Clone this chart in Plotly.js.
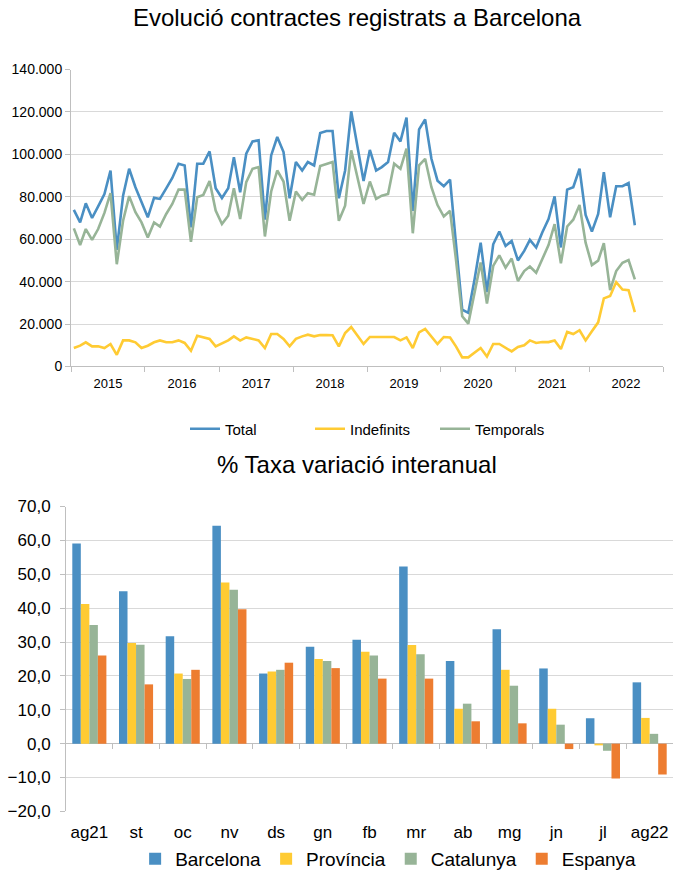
<!DOCTYPE html>
<html>
<head>
<meta charset="utf-8">
<script src="https://cdn.plot.ly/plotly-3.0.1.min.js"></script>
<style>
html,body{margin:0;padding:0;background:#fff;}
#chart{width:675px;height:878px;}
</style>
</head>
<body>
<div id="chart"></div>
<script>
// ---- Line chart data (thousands of contracts, monthly Jan 2015 - Aug 2022) ----
const years = [2015, 2016, 2017, 2018, 2019, 2020, 2021, 2022];
const total = [
  73.8,67.9,76.9,70.0,75.5,81.3,92.4,55.0,80.5,93.2,84.5,77.4,
  70.3,79.5,79.0,84.0,88.9,95.6,94.8,65.6,95.6,95.6,101.4,84.0,
  79.4,84.0,98.7,82.1,100.3,106.1,106.6,69.2,99.5,108.2,101.1,79.3,
  96.4,92.4,96.4,94.8,110.1,111.0,111.0,79.3,92.4,120.3,104.2,87.4,
  102.1,92.4,94.0,96.4,110.2,106.1,117.3,73.4,111.8,116.5,97.9,87.6,
  85.0,88.1,58.0,26.8,25.3,41.1,58.4,35.1,57.6,63.6,56.8,59.2,
  50.0,54.5,59.7,56.1,63.2,69.5,80.2,56.1,83.4,84.5,93.2,71.4,
  63.6,71.9,91.6,70.3,85.0,85.0,86.5,66.6
];
const indefinits = [
  8.7,9.8,11.4,9.5,9.5,8.7,10.6,5.5,12.3,12.3,11.4,8.7,
  9.8,11.4,12.3,11.4,11.4,12.3,11.1,7.4,14.5,13.6,13.0,9.5,
  11.0,12.3,14.2,12.2,13.7,13.0,12.3,8.7,15.3,15.3,13.0,9.5,
  13.0,14.2,15.0,14.2,14.8,14.8,14.7,9.5,15.8,18.6,14.5,10.6,
  13.9,13.9,13.9,13.9,13.9,12.3,13.7,8.7,16.1,17.7,13.9,10.6,
  13.9,13.7,9.5,4.3,4.3,6.6,8.7,4.7,10.6,10.6,9.0,7.1,
  9.2,10.0,12.3,11.1,11.5,11.5,12.3,8.2,16.3,15.3,17.1,12.3,
  16.6,20.8,32.1,33.2,39.8,36.3,36.0,25.6
];
const temporals = [
  65.1,57.3,64.8,59.7,64.8,72.4,81.7,48.2,68.7,80.3,72.7,67.9,
  60.8,67.9,66.0,71.9,76.6,83.4,83.4,58.8,79.8,80.9,87.4,73.5,
  67.2,71.1,84.0,69.5,86.9,93.2,94.0,61.3,82.5,92.4,87.2,68.7,
  82.5,78.5,81.7,81.0,94.5,95.6,96.4,68.7,75.8,101.9,89.3,76.6,
  87.2,79.0,80.5,81.3,95.6,93.2,102.7,62.8,94.8,97.9,84.5,76.1,
  70.7,73.4,50.5,23.7,20.2,34.7,49.0,29.7,47.4,52.4,46.6,50.9,
  40.3,45.0,47.1,44.2,50.8,57.2,67.1,48.6,66.0,69.2,76.1,58.4,
  47.8,49.9,58.1,36.0,45.0,48.9,50.2,41.1
];

// ---- Bar chart data (% interannual variation) ----
const categories = ['ag21','st','oc','nv','ds','gn','fb','mr','ab','mg','jn','jl','ag22'];
const barcelona = [59.1,45.0,31.7,64.3,20.7,28.6,30.7,52.3,24.4,33.8,22.2,7.5,18.1];
const provincia = [41.2,29.7,20.7,47.6,21.3,25.0,27.1,29.1,10.3,21.8,10.3,-0.5,7.6];
const catalunya = [35.0,29.2,19.1,45.4,21.8,24.4,26.0,26.4,11.8,17.1,5.6,-2.1,2.9];
const espanya = [26.0,17.5,21.8,39.7,23.9,22.3,19.2,19.2,6.6,6.0,-1.6,-10.3,-9.1];

// month dates (mid-month) matching the series length
const months = [];
years.forEach(y => {
  for (let m = 1; m <= 12; m++) {
    if (months.length < total.length) months.push(y + '-' + String(m).padStart(2, '0') + '-15');
  }
});
const k = arr => arr.map(v => v * 1000);

const C_BLUE = '#4A8FC3', C_YEL = '#FFCB33', C_GREEN = '#97B497', C_ORANGE = '#ED7D31';
const GRID = '#D9D9D9';
const FONT = 'Liberation Sans, Arial, sans-serif';

const traces = [
  {x: months, y: k(total), name: 'Total', type: 'scatter', mode: 'lines',
   line: {color: C_BLUE, width: 2.6}, xaxis: 'x', yaxis: 'y', legend: 'legend'},
  {x: months, y: k(indefinits), name: 'Indefinits', type: 'scatter', mode: 'lines',
   line: {color: C_YEL, width: 2.6}, xaxis: 'x', yaxis: 'y', legend: 'legend'},
  {x: months, y: k(temporals), name: 'Temporals', type: 'scatter', mode: 'lines',
   line: {color: C_GREEN, width: 2.6}, xaxis: 'x', yaxis: 'y', legend: 'legend'},

  {x: categories, y: barcelona, name: 'Barcelona', type: 'bar', marker: {color: C_BLUE},
   xaxis: 'x2', yaxis: 'y2', legend: 'legend2'},
  {x: categories, y: provincia, name: 'Província', type: 'bar', marker: {color: C_YEL},
   xaxis: 'x2', yaxis: 'y2', legend: 'legend2'},
  {x: categories, y: catalunya, name: 'Catalunya', type: 'bar', marker: {color: C_GREEN},
   xaxis: 'x2', yaxis: 'y2', legend: 'legend2'},
  {x: categories, y: espanya, name: 'Espanya', type: 'bar', marker: {color: C_ORANGE},
   xaxis: 'x2', yaxis: 'y2', legend: 'legend2'},
  // empty helper trace so the tick-mark overlay axis on the zero line is drawn
  {x: [], y: [], type: 'scatter', mode: 'lines', xaxis: 'x3', yaxis: 'y2', showlegend: false, hoverinfo: 'skip'}
];

const layout = {
  width: 675, height: 878,
  margin: {l: 0, r: 0, t: 0, b: 0},
  paper_bgcolor: '#fff', plot_bgcolor: '#fff',
  separators: ',.',
  font: {family: FONT, color: '#000'},
  showlegend: true,
  barmode: 'group', bargap: 0.27, bargroupgap: 0,
  title: {text: 'Evolució contractes registrats a Barcelona', x: 357/675, xanchor: 'center',
          y: 1 - 18/878, yanchor: 'middle', font: {size: 24, family: FONT, color: '#000'}},
  xaxis: {
    domain: [71/675, 663/675], anchor: 'y', type: 'date',
    range: ['2015-01-01', '2023-01-01'],
    tick0: '2015-01-01', dtick: 'M12', tickformat: '%Y', ticklabelmode: 'period',
    ticks: 'outside', ticklen: 5, tickcolor: '#BFBFBF', tickwidth: 1,
    showline: true, linecolor: '#BFBFBF', linewidth: 1, showgrid: false, zeroline: false,
    tickfont: {size: 13, family: FONT, color: '#000'}
  },
  yaxis: {
    domain: [1 - 369/878, 1 - 70/878], anchor: 'x',
    range: [0, 140000], dtick: 20000, tickformat: ',d',
    ticks: 'outside', ticklen: 5, tickcolor: '#BFBFBF',
    showline: true, linecolor: '#BFBFBF', gridcolor: GRID, gridwidth: 1, zeroline: false,
    tickfont: {size: 14, family: FONT, color: '#000'}
  },
  xaxis2: {
    domain: [66/675, 673/675], anchor: 'y2', type: 'category',
    range: [-0.5, 12.5], ticks: '', showline: false, showgrid: false, zeroline: false,
    tickfont: {size: 17, family: FONT, color: '#000'}, ticklabelstandoff: 9
  },
  xaxis3: {
    domain: [66/675, 673/675], anchor: 'free', overlaying: 'x2', position: 1 - 748/878,
    range: [-0.5, 12.5], tickvals: [0.5,1.5,2.5,3.5,4.5,5.5,6.5,7.5,8.5,9.5,10.5,11.5],
    ticks: 'outside', ticklen: 5, tickcolor: '#BFBFBF', showticklabels: false,
    showline: false, showgrid: false, zeroline: false, fixedrange: true
  },
  yaxis2: {
    domain: [1 - 817/878, 1 - 510/878], anchor: 'x2',
    range: [-20, 70], dtick: 10, tickformat: '.1f',
    ticks: 'outside', ticklen: 5, tickcolor: '#BFBFBF',
    showline: true, linecolor: '#BFBFBF', gridcolor: GRID, gridwidth: 1,
    zeroline: true, zerolinecolor: '#BFBFBF', zerolinewidth: 1,
    tickfont: {size: 17, family: FONT, color: '#000'}, ticklabelstandoff: 6
  },
  legend: {
    orientation: 'h', x: 185/675, xanchor: 'left', y: 1 - 432/878, yanchor: 'middle',
    font: {size: 15, family: FONT, color: '#000'}, bgcolor: 'rgba(0,0,0,0)', itemwidth: 30,
    entrywidth: 80, entrywidthmode: 'pixels'
  },
  legend2: {
    orientation: 'h', x: 0.575, xanchor: 'center', y: 1 - 865/878, yanchor: 'middle',
    font: {size: 19, family: FONT, color: '#000'}, bgcolor: 'rgba(0,0,0,0)', itemwidth: 30
  },
  annotations: [{
    text: '% Taxa variació interanual', xref: 'paper', yref: 'paper',
    x: 357/675, xanchor: 'center', y: 1 - 468/878, yanchor: 'middle', showarrow: false,
    font: {size: 24, family: FONT, color: '#000'}
  }]
};

Plotly.newPlot('chart', traces, layout, {displayModeBar: false, staticPlot: true});
</script>
</body>
</html>
